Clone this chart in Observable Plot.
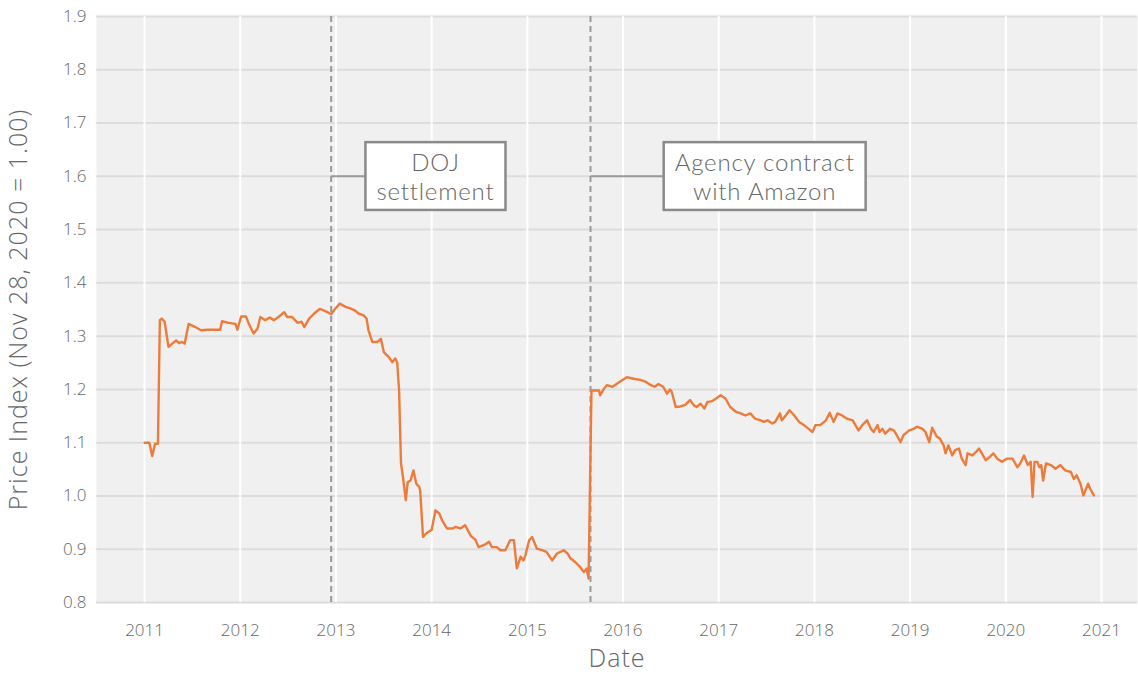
<!DOCTYPE html>
<html>
<head>
<meta charset="utf-8">
<script src="https://cdn.jsdelivr.net/npm/d3@7"></script>
<script src="https://cdn.jsdelivr.net/npm/@observablehq/plot@0.6"></script>
<style>
  html, body { margin: 0; padding: 0; background: #fff; }
  #chart { width: 1138px; height: 675px; }
</style>
</head>
<body>
<div id="chart"></div>
<script>
// ---- data ----
const years = [
  2011.00, 2011.05, 2011.08, 2011.11, 2011.14, 2011.16, 2011.18, 2011.21, 2011.25, 2011.29,
  2011.33, 2011.36, 2011.39, 2011.42, 2011.46, 2011.52, 2011.59, 2011.66, 2011.72, 2011.79,
  2011.81, 2011.88, 2011.95, 2011.97, 2012.01, 2012.06, 2012.09, 2012.14, 2012.18, 2012.21,
  2012.26, 2012.31, 2012.35, 2012.40, 2012.46, 2012.49, 2012.54, 2012.60, 2012.64, 2012.67,
  2012.72, 2012.77, 2012.83, 2012.89, 2012.95, 2012.99, 2013.04, 2013.10, 2013.15, 2013.20,
  2013.24, 2013.29, 2013.32, 2013.34, 2013.38, 2013.43, 2013.47, 2013.50, 2013.55, 2013.59,
  2013.62, 2013.64, 2013.66, 2013.68, 2013.70, 2013.73, 2013.75, 2013.78, 2013.81, 2013.84,
  2013.87, 2013.88, 2013.91, 2013.94, 2013.97, 2014.00, 2014.04, 2014.08, 2014.11, 2014.16,
  2014.22, 2014.25, 2014.30, 2014.35, 2014.41, 2014.46, 2014.49, 2014.55, 2014.60, 2014.63,
  2014.68, 2014.72, 2014.77, 2014.82, 2014.86, 2014.89, 2014.93, 2014.96, 2014.98, 2015.02,
  2015.05, 2015.10, 2015.16, 2015.20, 2015.26, 2015.31, 2015.38, 2015.42, 2015.45, 2015.50,
  2015.55, 2015.59, 2015.62, 2015.64, 2015.67, 2015.71, 2015.75, 2015.76, 2015.80, 2015.83,
  2015.89, 2015.94, 2015.99, 2016.04, 2016.11, 2016.18, 2016.24, 2016.29, 2016.33, 2016.37,
  2016.42, 2016.46, 2016.49, 2016.51, 2016.55, 2016.60, 2016.65, 2016.70, 2016.74, 2016.77,
  2016.81, 2016.85, 2016.88, 2016.93, 2016.98, 2017.02, 2017.07, 2017.12, 2017.18, 2017.23,
  2017.28, 2017.33, 2017.38, 2017.44, 2017.47, 2017.51, 2017.56, 2017.59, 2017.64, 2017.66,
  2017.70, 2017.74, 2017.79, 2017.84, 2017.89, 2017.94, 2017.98, 2018.01, 2018.06, 2018.12,
  2018.16, 2018.20, 2018.24, 2018.29, 2018.34, 2018.40, 2018.46, 2018.50, 2018.55, 2018.59,
  2018.62, 2018.66, 2018.68, 2018.71, 2018.74, 2018.79, 2018.83, 2018.86, 2018.90, 2018.93,
  2018.99, 2019.04, 2019.07, 2019.13, 2019.16, 2019.20, 2019.23, 2019.28, 2019.31, 2019.35,
  2019.37, 2019.40, 2019.44, 2019.47, 2019.51, 2019.54, 2019.58, 2019.60, 2019.65, 2019.69,
  2019.72, 2019.75, 2019.79, 2019.83, 2019.87, 2019.91, 2019.96, 2020.01, 2020.07, 2020.08,
  2020.12, 2020.15, 2020.19, 2020.23, 2020.26, 2020.28, 2020.30, 2020.33, 2020.35, 2020.37,
  2020.39, 2020.42, 2020.47, 2020.52, 2020.57, 2020.62, 2020.68, 2020.71, 2020.74, 2020.78,
  2020.81, 2020.86, 2020.88, 2020.92
];
const priceIndex = [
  1.100, 1.100, 1.075, 1.098, 1.098, 1.330, 1.333, 1.327, 1.280, 1.286,
  1.292, 1.287, 1.289, 1.286, 1.323, 1.318, 1.311, 1.312, 1.312, 1.312,
  1.328, 1.325, 1.323, 1.312, 1.337, 1.337, 1.323, 1.305, 1.314, 1.336,
  1.330, 1.335, 1.330, 1.336, 1.345, 1.336, 1.336, 1.325, 1.327, 1.317,
  1.333, 1.342, 1.351, 1.347, 1.341, 1.351, 1.361, 1.355, 1.352, 1.348,
  1.342, 1.339, 1.333, 1.311, 1.289, 1.289, 1.295, 1.270, 1.261, 1.251,
  1.258, 1.251, 1.198, 1.061, 1.036, 0.992, 1.026, 1.029, 1.048, 1.023,
  1.017, 1.011, 0.923, 0.929, 0.933, 0.936, 0.973, 0.967, 0.954, 0.939,
  0.939, 0.942, 0.939, 0.945, 0.925, 0.917, 0.904, 0.908, 0.914, 0.904,
  0.904, 0.898, 0.898, 0.917, 0.917, 0.864, 0.886, 0.879, 0.889, 0.917,
  0.923, 0.901, 0.898, 0.895, 0.879, 0.892, 0.898, 0.892, 0.883, 0.876,
  0.867, 0.857, 0.864, 0.845, 1.198, 1.198, 1.198, 1.189, 1.201, 1.208,
  1.205, 1.211, 1.217, 1.223, 1.220, 1.218, 1.214, 1.208, 1.205, 1.210,
  1.205, 1.192, 1.200, 1.195, 1.167, 1.168, 1.171, 1.180, 1.170, 1.167,
  1.173, 1.164, 1.176, 1.178, 1.184, 1.189, 1.183, 1.167, 1.158, 1.155,
  1.151, 1.155, 1.145, 1.142, 1.139, 1.142, 1.136, 1.139, 1.155, 1.142,
  1.151, 1.161, 1.151, 1.139, 1.133, 1.126, 1.120, 1.133, 1.133, 1.142,
  1.156, 1.139, 1.155, 1.151, 1.145, 1.142, 1.123, 1.133, 1.142, 1.126,
  1.120, 1.133, 1.120, 1.126, 1.117, 1.126, 1.123, 1.114, 1.101, 1.114,
  1.123, 1.126, 1.130, 1.126, 1.120, 1.101, 1.128, 1.111, 1.108, 1.095,
  1.080, 1.095, 1.076, 1.086, 1.089, 1.070, 1.058, 1.080, 1.076, 1.083,
  1.089, 1.080, 1.067, 1.073, 1.080, 1.070, 1.064, 1.070, 1.070, 1.067,
  1.054, 1.061, 1.076, 1.058, 1.064, 0.998, 1.064, 1.064, 1.054, 1.058,
  1.029, 1.061, 1.058, 1.051, 1.058, 1.048, 1.045, 1.032, 1.039, 1.023,
  1.001, 1.023, 1.014, 1.001
];
const xTicks = [2011, 2012, 2013, 2014, 2015, 2016, 2017, 2018, 2019, 2020, 2021];
const yTicks = [0.8, 0.9, 1.0, 1.1, 1.2, 1.3, 1.4, 1.5, 1.6, 1.7, 1.8, 1.9];
const eventYears = [2012.95, 2015.66];
const eventLabels = ["DOJ\nsettlement", "Agency contract\nwith Amazon"];
const labelYears = [2014.04, 2017.48];
const labelLevel = [1.6, 1.6];

// ---- build ----
const series = years.map((t, i) => ({t, v: priceIndex[i]}));
const events = eventYears.map((t, i) => ({t, lt: labelYears[i], y: labelLevel[i], label: eventLabels[i]}));

const FONT = "'Open Sans', Lato, sans-serif";
const TXT = "#666666";

const chart = Plot.plot({
  width: 1138,
  height: 675,
  marginLeft: 96,
  marginRight: 1,
  marginTop: 16,
  marginBottom: 73,
  style: {background: "#ffffff", fontFamily: FONT, fontSize: "17px", color: TXT, fontWeight: 300},
  x: {domain: [2010.498, 2021.376], label: null},
  y: {domain: [0.8, 1.9], label: null},
  marks: [
    Plot.frame({fill: "#f0f0f0", stroke: null}),
    Plot.gridY(yTicks, {stroke: "#dcdcdc", strokeOpacity: 1, strokeWidth: 2}),
    Plot.gridX(xTicks, {stroke: "#ffffff", strokeOpacity: 1, strokeWidth: 2}),
    Plot.axisX(xTicks, {tickSize: 0, tickPadding: 21, tickFormat: d => String(d), fontSize: 17, fill: TXT,
      label: "Date", labelAnchor: "center", labelArrow: "none", labelOffset: 64}),
    Plot.axisY(yTicks, {tickSize: 0, tickPadding: 10, tickFormat: d3.format(".1f"), fontSize: 17, fill: TXT,
      label: "Price Index (Nov 28, 2020 = 1.00)", labelAnchor: "center", labelArrow: "none", labelOffset: 87}),
    Plot.ruleX(events, {x: "t", stroke: "#9a9a9a", strokeWidth: 2, strokeDasharray: "6,4"}),
    Plot.link(events, {x1: "t", x2: "lt", y1: "y", y2: "y", stroke: "#9a9a9a", strokeWidth: 2}),
    Plot.line(series, {x: "t", y: "v", stroke: "#ed7b3b", strokeWidth: 2.4, curve: "linear"}),
    Plot.text(events, {x: "lt", y: "y", text: "label", fontSize: 24, lineHeight: 1.2, fill: "#666666",
      fontFamily: "Lato, 'Open Sans', sans-serif", fontWeight: 300})
  ]
});

document.getElementById("chart").appendChild(chart);

// style axis labels
chart.querySelectorAll('g[aria-label="x-axis label"] text, g[aria-label="y-axis label"] text').forEach(t => {
  t.setAttribute("font-size", 25);
  t.style.fontSize = "25px";
  t.setAttribute("letter-spacing", "1");
  t.setAttribute("fill", TXT);
});

// boxes behind annotation text
const annot = chart.querySelector('g[aria-label="text"]');
if (annot) {
  annot.setAttribute("letter-spacing", "0.8");
  annot.querySelectorAll("text").forEach(t => {
    const b = t.getBBox();
    const padX = 11, padY = 5;
    const r = document.createElementNS("http://www.w3.org/2000/svg", "rect");
    r.setAttribute("x", b.x - padX);
    r.setAttribute("y", b.y - padY);
    r.setAttribute("width", b.width + 2 * padX);
    r.setAttribute("height", b.height + 2 * padY);
    r.setAttribute("fill", "#ffffff");
    r.setAttribute("stroke", "#8a8a8a");
    r.setAttribute("stroke-width", 2.5);
    const tr = t.getAttribute("transform");
    if (tr) r.setAttribute("transform", tr);
    annot.insertBefore(r, t);
  });
}
</script>
</body>
</html>
